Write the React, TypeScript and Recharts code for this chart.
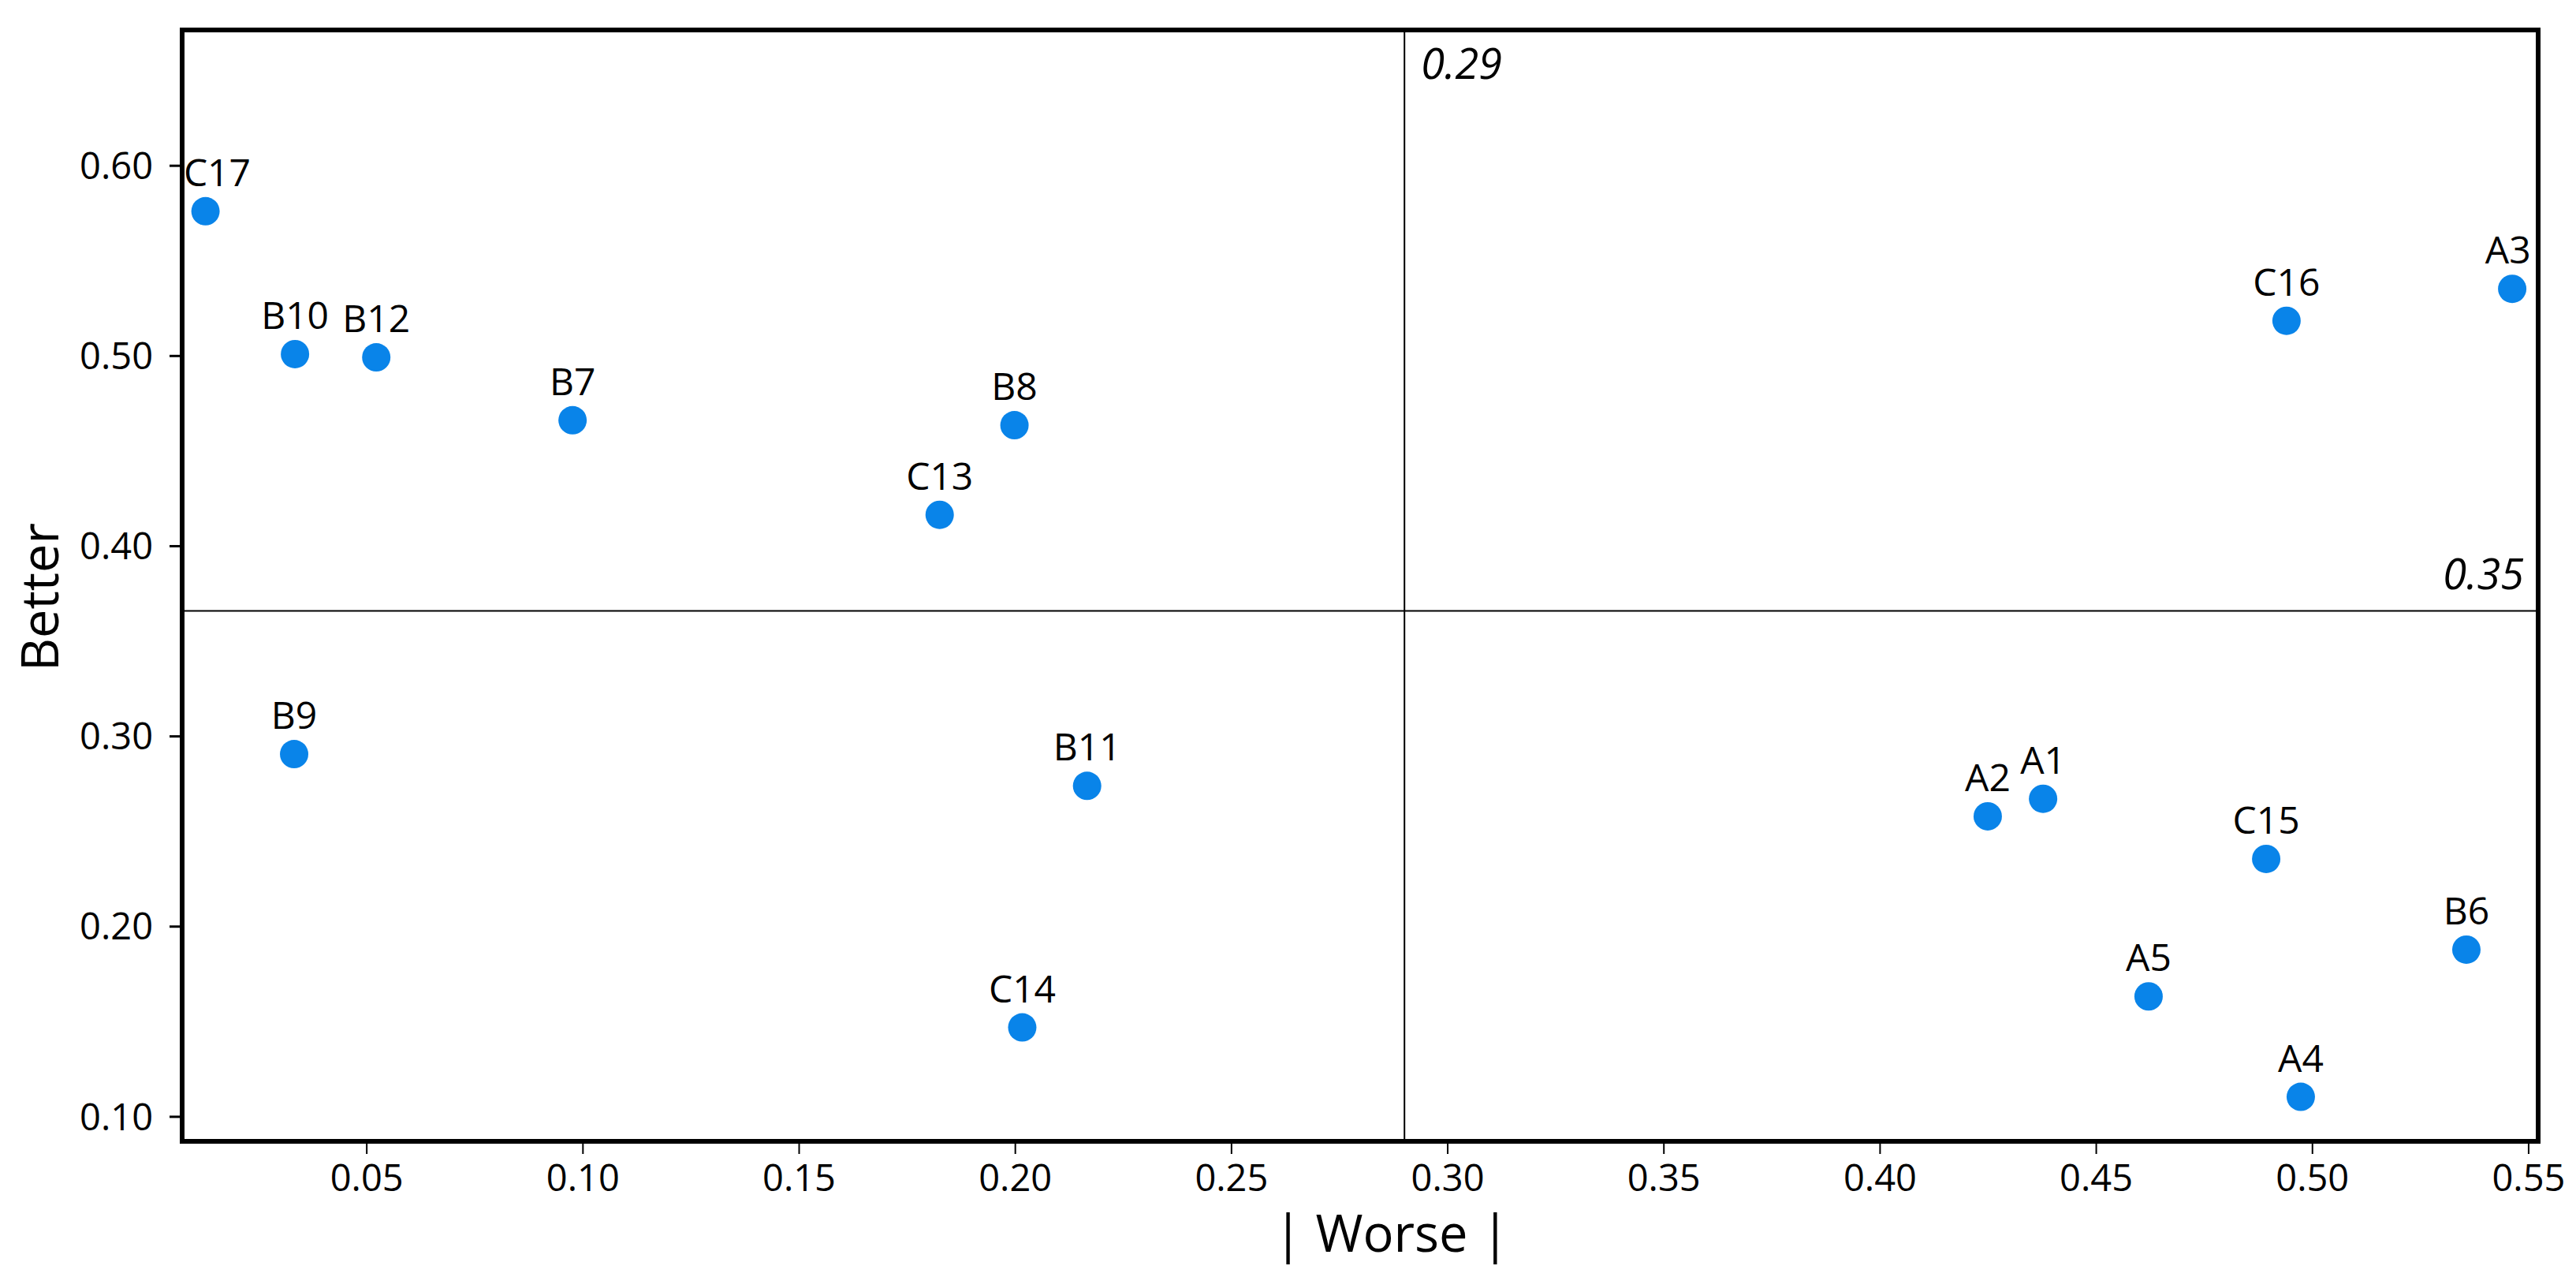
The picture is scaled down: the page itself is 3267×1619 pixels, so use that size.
import { ScatterChart, Scatter, XAxis, YAxis, ReferenceLine, ReferenceArea } from 'recharts';

const labels = ['A1', 'A2', 'A3', 'A4', 'A5', 'B6', 'B7', 'B8', 'B9', 'B10', 'B11', 'B12', 'C13', 'C14', 'C15', 'C16', 'C17'];
const worse = [0.4377, 0.4249, 0.5462, 0.4973, 0.4621, 0.5356, 0.0976, 0.1998, 0.0332, 0.0334, 0.2166, 0.0522, 0.1825, 0.2016, 0.4893, 0.494, 0.0127];
const better = [0.2672, 0.258, 0.5353, 0.1105, 0.1633, 0.1879, 0.4662, 0.4636, 0.2907, 0.501, 0.274, 0.4993, 0.4165, 0.147, 0.2356, 0.5185, 0.5761];

const xTicks = [0.05, 0.1, 0.15, 0.2, 0.25, 0.3, 0.35, 0.4, 0.45, 0.5, 0.55];
const yTicks = [0.1, 0.2, 0.3, 0.4, 0.5, 0.6];
const xDomain = [0.0073, 0.5522];
const yDomain = [0.0871, 0.6714];

const worseMean = 0.29;
const betterMean = 0.366;
const worseMeanText = '0.29';
const betterMeanText = '0.35';

const points = labels.map((name, i) => ({ name, x: worse[i], y: better[i] }));

const FONT = '"Open Sans", sans-serif';
const PLOT_LEFT = 231;
const PLOT_RIGHT = 3219;

const Dot = (props: any) => {
  const { cx, cy, payload } = props;
  const half = (payload.name.length * 28.3) / 2;
  let lx = cx;
  if (lx - half < PLOT_LEFT + 2) lx = PLOT_LEFT + 2 + half;
  if (lx + half > PLOT_RIGHT - 10) lx = PLOT_RIGHT - 10 - half;
  return (
    <g>
      <circle cx={cx} cy={cy} r={18} fill="#0984e9" />
      <text x={lx} y={cy - 32} textAnchor="middle" fontSize={48} fontFamily={FONT} fill="#000">
        {payload.name}
      </text>
    </g>
  );
};

const MeanLabelX = (props: any) => {
  const { viewBox } = props;
  return (
    <text x={viewBox.x + 21} y={viewBox.y + 62} fontSize={54} fontStyle="italic" fontFamily={FONT} fill="#000">
      {worseMeanText}
    </text>
  );
};

const MeanLabelY = (props: any) => {
  const { viewBox } = props;
  return (
    <text x={viewBox.x + viewBox.width - 18} y={viewBox.y - 27} textAnchor="end" fontSize={54} fontStyle="italic" fontFamily={FONT} fill="#000">
      {betterMeanText}
    </text>
  );
};

export default function App() {
  return (
    <div style={{ position: 'absolute', left: 0, top: 0, background: '#fff' }}>
      <ScatterChart width={3267} height={1619} margin={{ top: 38, right: 48, bottom: 0, left: 0 }} style={{ fontFamily: FONT }}>
        <XAxis
          type="number"
          dataKey="x"
          domain={xDomain}
          ticks={xTicks}
          allowDataOverflow
          axisLine={false}
          tickLine={{ stroke: '#000', strokeWidth: 2 }}
          tickSize={16}
          tickMargin={14}
          height={172}
          tick={{ fill: '#000', fontSize: 47, fontFamily: FONT }}
          tickFormatter={(v: number) => v.toFixed(2)}
          label={() => (
            <text x={1765} y={1587} textAnchor="middle" fontSize={65} fontFamily={FONT} fill="#000">
              | Worse |
            </text>
          )}
        />
        <YAxis
          type="number"
          dataKey="y"
          domain={yDomain}
          ticks={yTicks}
          allowDataOverflow
          axisLine={false}
          tickLine={{ stroke: '#000', strokeWidth: 3 }}
          tickSize={16}
          tickMargin={21}
          width={231}
          tick={{ fill: '#000', fontSize: 47, fontFamily: FONT }}
          tickFormatter={(v: number) => v.toFixed(2)}
          label={() => (
            <text x={74} y={757} transform="rotate(-90, 74, 757)" textAnchor="middle" fontSize={65} fontFamily={FONT} fill="#000">
              Better
            </text>
          )}
        />
        <ReferenceLine x={worseMean} stroke="#000" strokeWidth={2} label={<MeanLabelX />} />
        <ReferenceLine y={betterMean} stroke="#000" strokeWidth={2} label={<MeanLabelY />} />
        <Scatter data={points} shape={Dot} isAnimationActive={false} />
        <ReferenceArea
          x1={xDomain[0]}
          x2={xDomain[1]}
          y1={yDomain[0]}
          y2={yDomain[1]}
          ifOverflow="visible"
          fill="none"
          fillOpacity={0}
          stroke="#000"
          strokeWidth={6}
        />
      </ScatterChart>
    </div>
  );
}
